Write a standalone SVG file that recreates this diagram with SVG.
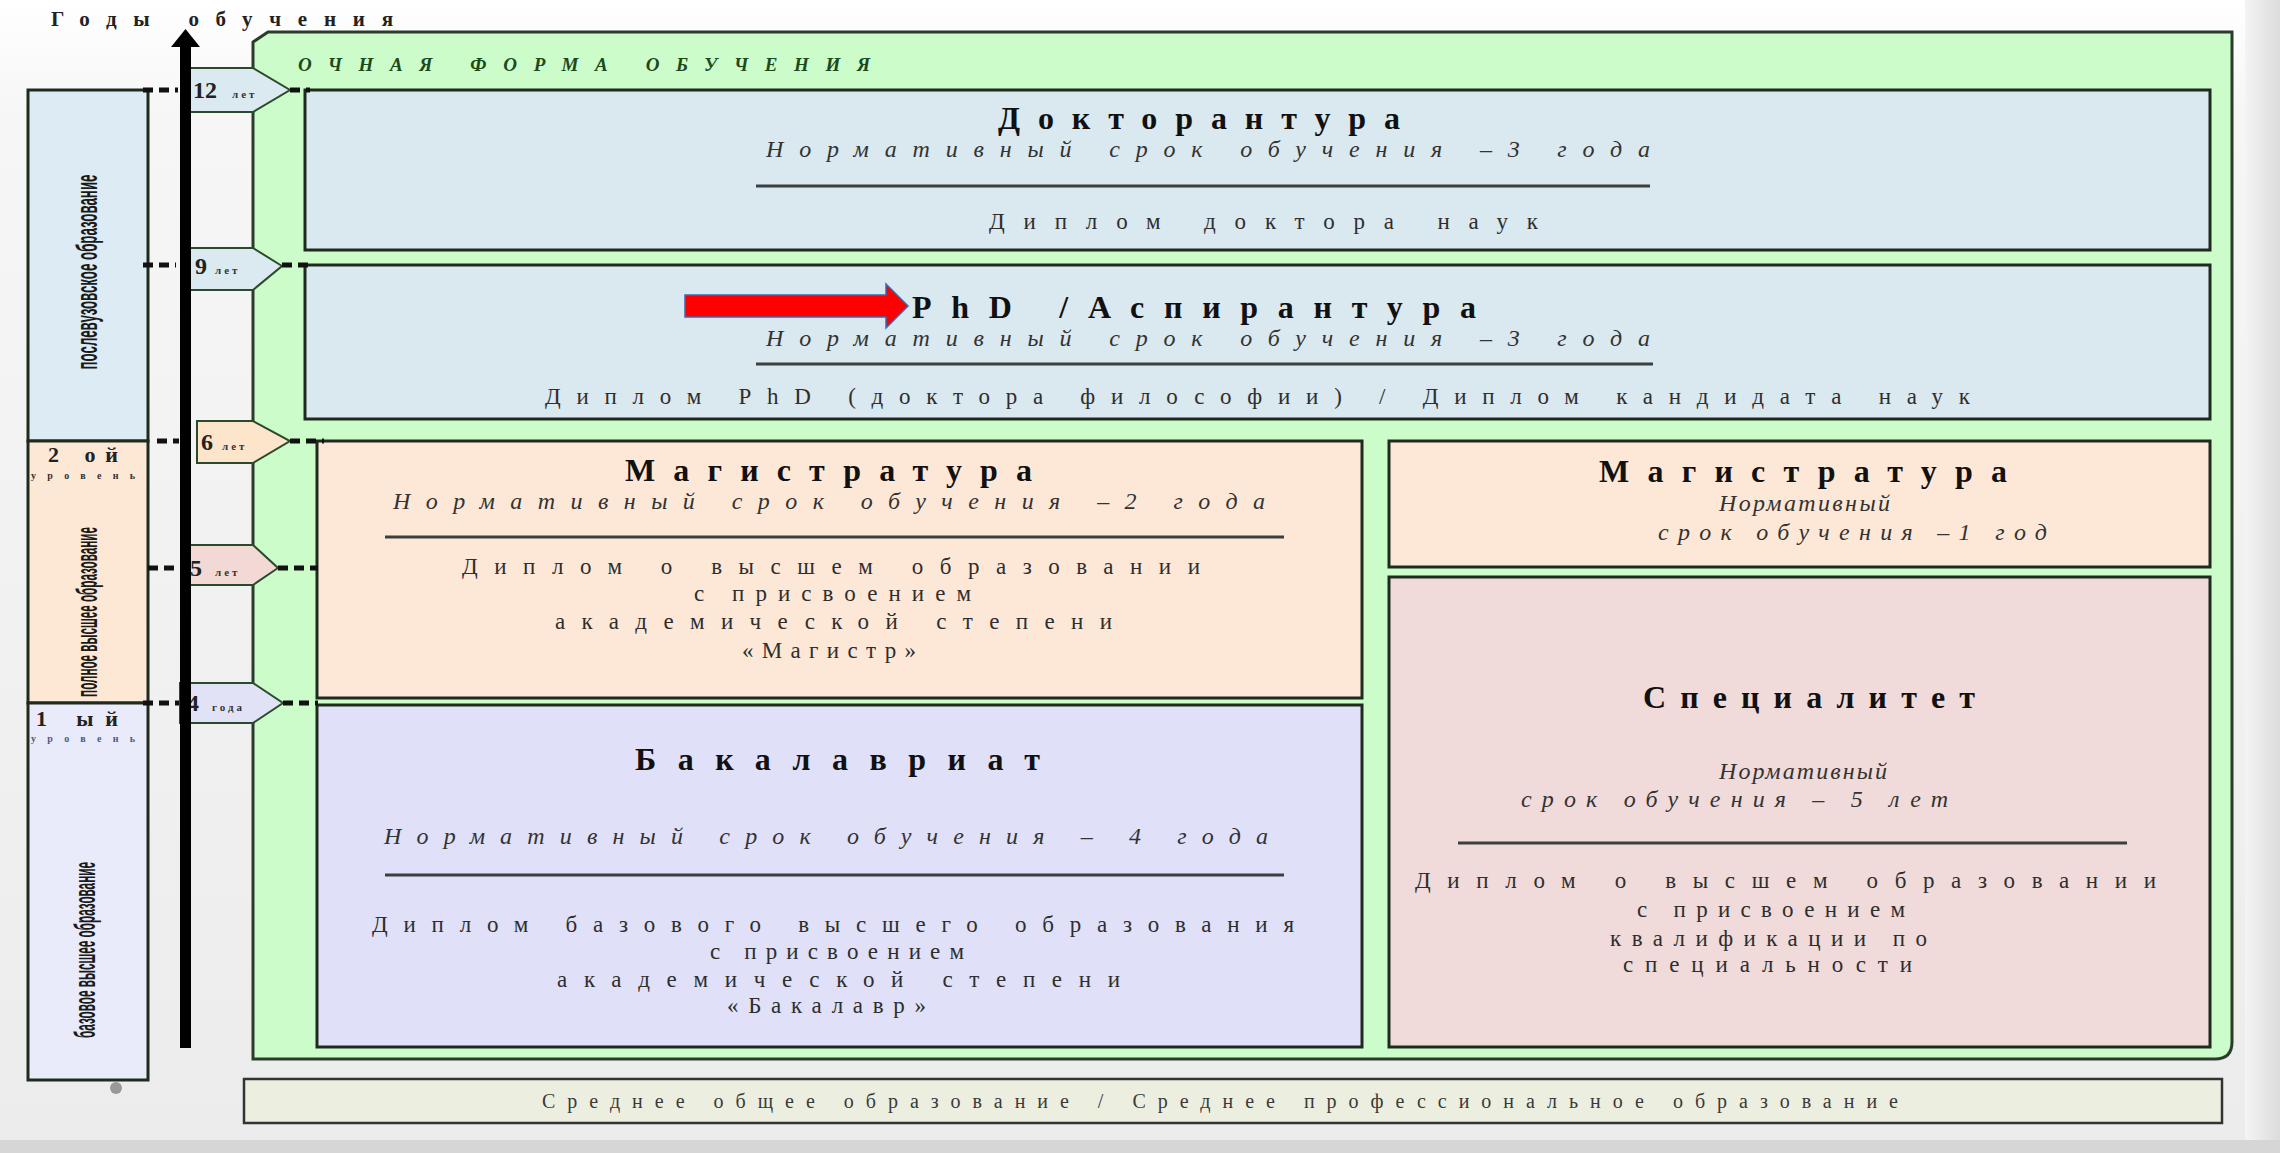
<svg xmlns="http://www.w3.org/2000/svg" width="2280" height="1153" viewBox="0 0 2280 1153">
<defs>
<linearGradient id="bg" x1="0" y1="0" x2="0" y2="1">
<stop offset="0" stop-color="#ffffff"/>
<stop offset="0.1" stop-color="#f6f6f6"/>
<stop offset="1" stop-color="#ececec"/>
</linearGradient>
<linearGradient id="rs" x1="0" y1="0" x2="1" y2="0">
<stop offset="0" stop-color="#f4f4f4"/>
<stop offset="1" stop-color="#dcdcdc"/>
</linearGradient>
<style>
.t{font-family:"Liberation Serif",serif;font-weight:bold;font-size:32px;fill:#111}
.s{font-family:"Liberation Serif",serif;font-style:italic;font-size:24px;fill:#333}
.b{font-family:"Liberation Serif",serif;font-size:23px;fill:#2e2e2e}
.v{font-family:"Liberation Sans",sans-serif;font-weight:bold;font-size:30px;fill:#1a1a1a;text-anchor:middle}
.box{stroke:#1f2a1f;stroke-width:3}
.rule{stroke:#3a3f3f;stroke-width:3}
.badge{stroke:#2b4a2b;stroke-width:2}
.num{font-family:"Liberation Serif",serif;font-weight:bold;font-size:24px;fill:#222}
.unit{font-family:"Liberation Serif",serif;font-weight:bold;font-size:11px;fill:#333;letter-spacing:3px}
.dash{stroke:#111;stroke-width:5;stroke-dasharray:10 6;fill:none}
</style>
</defs>
<rect x="0" y="0" width="2280" height="1153" fill="url(#bg)"/>
<rect x="2245" y="0" width="35" height="1153" fill="url(#rs)"/>
<rect x="0" y="1140" width="2280" height="13" fill="#d6d6d6"/>

<text x="51" y="26" font-family="Liberation Serif,serif" font-weight="bold" font-size="21" fill="#222" textLength="342" lengthAdjust="spacing">Годы обучения</text>

<g id="container">
<path d="M253,42 L268,32 L2232,32 L2232,1042 Q2232,1059 2215,1059 L253,1059 Z" fill="#cdfccb" stroke="#2a3d2a" stroke-width="3"/>
<text x="298" y="71" font-family="Liberation Serif,serif" font-weight="bold" font-style="italic" font-size="19" fill="#1d4a1d" textLength="572" lengthAdjust="spacing">ОЧНАЯ ФОРМА ОБУЧЕНИЯ</text>
</g>

<g id="left-col">
<rect x="28" y="90" width="120" height="351" fill="#dcebf4" class="box"/>
<rect x="28" y="441" width="120" height="262" fill="#fde8d5" class="box"/>
<rect x="28" y="703" width="120" height="377" fill="#e9ebfb" class="box"/>
<text class="v" transform="translate(97,272) rotate(-90) scale(0.44,1)" textLength="443" lengthAdjust="spacingAndGlyphs">послевузовское образование</text>
<text class="v" transform="translate(97,612) rotate(-90) scale(0.44,1)" textLength="386" lengthAdjust="spacingAndGlyphs">полное высшее образование</text>
<text class="v" transform="translate(95,950) rotate(-90) scale(0.44,1)" textLength="400" lengthAdjust="spacingAndGlyphs">базовое высшее образование</text>
<text x="48" y="462" font-family="Liberation Serif,serif" font-weight="bold" font-size="22" fill="#222" textLength="70" lengthAdjust="spacing">2 ой</text>
<text x="31" y="479" font-family="Liberation Serif,serif" font-weight="bold" font-size="10" fill="#333" textLength="104" lengthAdjust="spacing">уровень</text>
<text x="36" y="726" font-family="Liberation Serif,serif" font-weight="bold" font-size="22" fill="#222" textLength="82" lengthAdjust="spacing">1 ый</text>
<text x="31" y="742" font-family="Liberation Serif,serif" font-weight="bold" font-size="10" fill="#4a5a8a" textLength="104" lengthAdjust="spacing">уровень</text>
<circle cx="116" cy="1088" r="6" fill="#999"/>
</g>

<g id="doktorantura">
<rect x="305" y="90" width="1905" height="160" fill="#dae8ef" class="box"/>
<text class="t" x="998" y="129" textLength="402" lengthAdjust="spacing">Докторантура</text>
<text class="s" x="766" y="157" textLength="884" lengthAdjust="spacing">Нормативный срок обучения –3 года</text>
<line class="rule" x1="756" y1="186" x2="1650" y2="186"/>
<text class="b" x="989" y="229" textLength="549" lengthAdjust="spacing">Диплом доктора наук</text>
</g>

<g id="phd">
<rect x="305" y="265" width="1905" height="154" fill="#dae8ef" class="box"/>
<polygon points="685,295 886,295 886,284 908,306 886,328 886,317 685,317" fill="#ff0000" stroke="#3a6ab0" stroke-width="1.5"/>
<text class="t" x="912" y="318" textLength="564" lengthAdjust="spacing">PhD /Аспирантура</text>
<text class="s" x="766" y="346" textLength="884" lengthAdjust="spacing">Нормативный срок обучения –3 года</text>
<line class="rule" x1="756" y1="364" x2="1653" y2="364"/>
<text class="b" x="545" y="404" textLength="1425" lengthAdjust="spacing">Диплом PhD (доктора философии) / Диплом кандидата наук</text>
</g>

<g id="magistratura-2">
<rect x="317" y="441" width="1045" height="257" fill="#fde8d7" class="box"/>
<text class="t" x="625" y="481" textLength="407" lengthAdjust="spacing">Магистратура</text>
<text class="s" x="393" y="509" textLength="872" lengthAdjust="spacing">Нормативный срок обучения –2 года</text>
<line class="rule" x1="385" y1="537" x2="1284" y2="537"/>
<text class="b" x="462" y="574" textLength="738" lengthAdjust="spacing">Диплом о высшем образовании</text>
<text class="b" x="694" y="601" textLength="277" lengthAdjust="spacing">с присвоением</text>
<text class="b" x="555" y="629" textLength="557" lengthAdjust="spacing">академической степени</text>
<text class="b" x="742" y="658" textLength="174" lengthAdjust="spacing">«Магистр»</text>
</g>

<g id="magistratura-1">
<rect x="1389" y="441" width="821" height="126" fill="#fde8d7" class="box"/>
<text class="t" x="1599" y="482" textLength="408" lengthAdjust="spacing">Магистратура</text>
<text class="s" x="1719" y="511" textLength="171" lengthAdjust="spacing">Нормативный</text>
<text class="s" x="1658" y="540" textLength="389" lengthAdjust="spacing">срок обучения –1 год</text>
</g>

<g id="specialitet">
<rect x="1389" y="577" width="821" height="470" fill="#f0dada" class="box"/>
<text class="t" x="1643" y="708" textLength="332" lengthAdjust="spacing">Специалитет</text>
<text class="s" x="1719" y="779" textLength="168" lengthAdjust="spacing">Нормативный</text>
<text class="s" x="1521" y="807" textLength="427" lengthAdjust="spacing">срок обучения – 5 лет</text>
<line class="rule" x1="1458" y1="843" x2="2127" y2="843"/>
<text class="b" x="1415" y="888" textLength="741" lengthAdjust="spacing">Диплом о высшем образовании</text>
<text class="b" x="1637" y="917" textLength="268" lengthAdjust="spacing">с присвоением</text>
<text class="b" x="1610" y="946" textLength="317" lengthAdjust="spacing">квалификации по</text>
<text class="b" x="1623" y="972" textLength="289" lengthAdjust="spacing">специальности</text>
</g>

<g id="bakalavriat">
<rect x="317" y="705" width="1045" height="342" fill="#e0e0f8" class="box"/>
<text class="t" x="635" y="770" textLength="405" lengthAdjust="spacing">Бакалавриат</text>
<text class="s" x="384" y="844" textLength="884" lengthAdjust="spacing">Нормативный срок обучения – 4 года</text>
<line class="rule" x1="385" y1="875" x2="1284" y2="875"/>
<text class="b" x="372" y="932" textLength="922" lengthAdjust="spacing">Диплом базового высшего образования</text>
<text class="b" x="710" y="959" textLength="254" lengthAdjust="spacing">с присвоением</text>
<text class="b" x="557" y="987" textLength="563" lengthAdjust="spacing">академической степени</text>
<text class="b" x="727" y="1013" textLength="199" lengthAdjust="spacing">«Бакалавр»</text>
</g>

<g id="secondary">
<rect x="244" y="1079" width="1978" height="44" fill="#eceee0" stroke="#333" stroke-width="2.5"/>
<text x="542" y="1108" font-family="Liberation Serif,serif" font-size="20" fill="#3a3a3a" textLength="1356" lengthAdjust="spacing">Среднее общее образование / Среднее профессиональное образование</text>
</g>

<g id="badges">
<g id="badge-12"><polygon class="badge" points="183,68 253,68 290,90 253,112 183,112" fill="#dbe9f0"/><text class="num" x="193" y="98">12</text><text class="unit" x="232" y="98">лет</text></g>
<g id="badge-9"><polygon class="badge" points="183,248 253,248 282,266 253,290 183,290" fill="#dbe9f0"/><text class="num" x="195" y="274">9</text><text class="unit" x="215" y="274">лет</text></g>
<g id="badge-6"><polygon class="badge" points="197,421 253,421 290,441 253,463 197,463" fill="#fde5cc"/><text class="num" x="201" y="450">6</text><text class="unit" x="222" y="450">лет</text></g>
<g id="badge-5"><polygon class="badge" points="183,545 253,545 278,568 253,585 183,585" fill="#f3d9d6"/><text class="num" x="190" y="576">5</text><text class="unit" x="215" y="576">лет</text></g>
<g id="badge-4"><polygon class="badge" points="180,683 253,683 283,703 253,723 180,723" fill="#e2e2f6"/><text class="num" x="187" y="711">4</text><text class="unit" x="212" y="711">года</text></g>
</g>

<g id="axis">
<rect x="180" y="44" width="11" height="1004" fill="#000"/>
<polygon points="185.5,29 171,47 200,47" fill="#000"/>
</g>

<g id="connectors">
<line class="dash" x1="143" y1="90" x2="178" y2="90"/>
<line class="dash" x1="290" y1="90" x2="310" y2="90"/>
<line class="dash" x1="143" y1="265" x2="176" y2="265"/>
<line class="dash" x1="282" y1="265" x2="310" y2="265"/>
<line class="dash" x1="157" y1="441" x2="179" y2="441"/>
<line class="dash" x1="290" y1="441" x2="324" y2="441"/>
<line class="dash" x1="148" y1="568" x2="180" y2="568"/>
<line class="dash" x1="278" y1="568" x2="318" y2="568"/>
<line class="dash" x1="143" y1="703" x2="179" y2="703"/>
<line class="dash" x1="283" y1="703" x2="318" y2="703"/>
</g>
</svg>
